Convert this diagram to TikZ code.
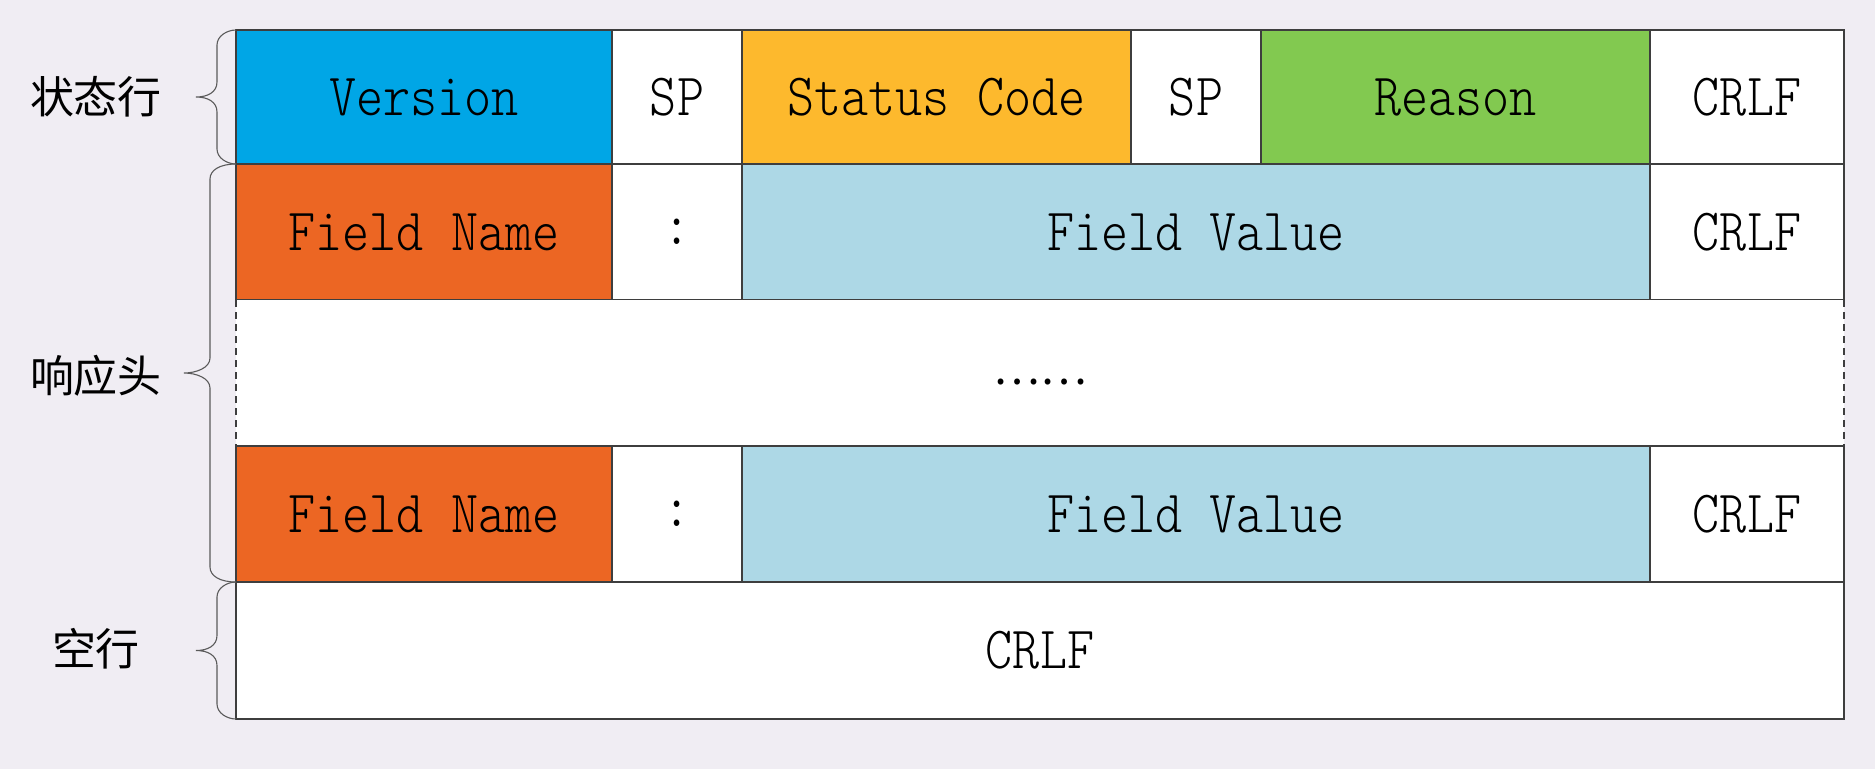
\documentclass[tikz,border=0pt]{standalone}
\usepackage{fontspec}
\usetikzlibrary{positioning}
\newfontfamily\cjkfont{Noto Sans CJK SC}
\newfontfamily\cellfont{lmmonolt10-regular.otf}[FakeStretch=0.86]
\definecolor{bgcol}{RGB}{240,237,243}
\definecolor{gridcol}{RGB}{62,62,62}
\definecolor{bracecol}{RGB}{90,90,90}
\definecolor{verblue}{RGB}{0,166,230}
\definecolor{codeyellow}{RGB}{253,185,45}
\definecolor{reasongreen}{RGB}{130,201,80}
\definecolor{nameorange}{RGB}{236,102,35}
\definecolor{valueblue}{RGB}{173,216,230}
% curly brace on the left of a row group: top y, bottom y, stem x, tip x
\newcommand{\sidebrace}[4]{%
  \pgfmathsetmacro\bmid{(#1+#2)/2}
  \draw[bracepen] (236,#1) .. controls (#3+10,#1) and (#3,#1+6) .. (#3,#1+15)
    -- (#3,\bmid-15) .. controls (#3,\bmid-5) and (#4+12,\bmid) .. (#4,\bmid)
    .. controls (#4+12,\bmid) and (#3,\bmid+5) .. (#3,\bmid+15)
    -- (#3,#2-15) .. controls (#3,#2-6) and (#3+10,#2) .. (236,#2);}

\begin{document}
\begin{tikzpicture}[
  x=1pt, y=-1pt,
  node distance=0pt,
  cell/.style={draw=gridcol, line width=1.6pt, fill=white, inner sep=0pt,
    outer sep=0pt, font=\cellfont\fontsize{60}{60}\selectfont},
  row1/.style={cell, minimum height=134pt},
  row2/.style={cell, minimum height=136pt},
  lbl/.style={font=\cjkfont\fontsize{44}{44}\selectfont, inner sep=0pt},
  bracepen/.style={draw=bracecol, line width=1.1pt},
  dashpen/.style={draw=gridcol, line width=1.2pt, dash pattern=on 7pt off 5pt}
]
\fill[bgcol] (0,0) rectangle (1875,769);

% status line
\node[row1, fill=verblue, minimum width=376pt, anchor=north west] (ver) at (236,30) {Version};
\node[row1, minimum width=130pt, right=of ver] (sp1) {SP};
\node[row1, fill=codeyellow, minimum width=389pt, right=of sp1] (code) {Status Code};
\node[row1, minimum width=130pt, right=of code] (sp2) {SP};
\node[row1, fill=reasongreen, minimum width=389pt, right=of sp2] (reason) {Reason};
\node[row1, minimum width=194pt, right=of reason] (crlf1) {CRLF};

% first header field
\node[row2, fill=nameorange, minimum width=376pt, below=of ver] (name1) {Field Name};
\node[row2, minimum width=130pt, right=of name1] (colon1) {:};
\node[row2, fill=valueblue, minimum width=908pt, right=of colon1] (value1) {Field Value};
\node[row2, minimum width=194pt, right=of value1] (crlf2) {CRLF};

% more fields
\node[fill=white, inner sep=0pt, outer sep=0pt, minimum width=1608pt,
  minimum height=146pt, anchor=north west, font=\cjkfont\fontsize{44}{44}\selectfont]
  (more) at (name1.south west) {\raisebox{-11pt}[0pt][0pt]{……}};
\draw[dashpen] (more.north west) -- (more.south west);
\draw[dashpen] (more.north east) -- (more.south east);

% last header field
\node[row2, fill=nameorange, minimum width=376pt, anchor=north west] (name2) at (more.south west) {Field Name};
\node[row2, minimum width=130pt, right=of name2] (colon2) {:};
\node[row2, fill=valueblue, minimum width=908pt, right=of colon2] (value2) {Field Value};
\node[row2, minimum width=194pt, right=of value2] (crlf3) {CRLF};

% empty line
\node[cell, minimum width=1608pt, minimum height=137pt, anchor=north west] (blank) at (name2.south west) {CRLF};

% group labels
\sidebrace{30}{164}{217}{196}
\sidebrace{164}{582}{210}{184}
\sidebrace{582}{719}{217}{196}
\node[lbl] (lstatus) at (96,97) {状态行};
\node[lbl] (lheader) at (96,376) {响应头};
\node[lbl] (lblank) at (96,649) {空行};
\end{tikzpicture}
\end{document}
